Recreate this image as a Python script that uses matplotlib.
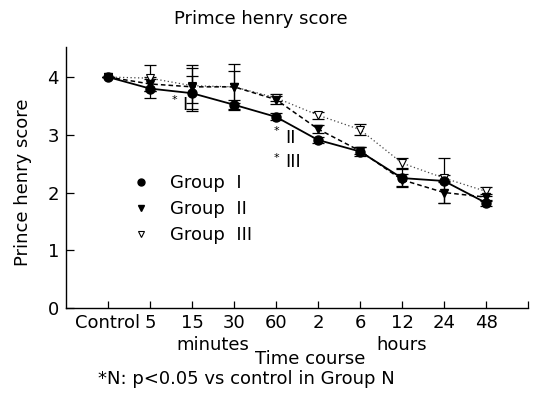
import numpy as np
import matplotlib
matplotlib.use("Agg")
import matplotlib.pyplot as plt
from matplotlib.lines import Line2D
from matplotlib.transforms import blended_transform_factory

plt.rcParams['font.family'] = ['DejaVu Sans']

# ---- data ----
time_labels = ['Control', '5', '15', '30', '60', '2', '6', '12', '24', '48']
group1 = [4.0, 3.80, 3.72, 3.52, 3.31, 2.91, 2.71, 2.25, 2.20, 1.82]
group1_err = [0, 0.16, 0.30, 0.08, 0.06, 0.05, 0.07, 0.15, 0.39, 0.05]
group2 = [4.0, 3.88, 3.83, 3.83, 3.61, 3.10, 2.72, 2.22, 2.00, 1.92]
group2_err = [0, 0.12, 0.38, 0.40, 0.07, 0.07, 0.06, 0.10, 0.18, 0.06]
group3 = [4.0, 3.98, 3.85, 3.83, 3.64, 3.34, 3.09, 2.51, 2.25, 2.02]
group3_err = [0, 0.22, 0.30, 0.28, 0.06, 0.06, 0.10, 0.08, 0.05, 0.08]
legend_labels = ['Group  I', 'Group  II', 'Group  III']

W, H = 535, 403
fig = plt.figure(figsize=(W / 100, H / 100), dpi=100)
ax = fig.add_axes([66 / W, 1 - 308 / H, (528 - 66) / W, (308 - 47) / H])

x = np.arange(len(time_labels))
fs = 13

# error bars
for vals, errs in [(group3, group3_err), (group2, group2_err), (group1, group1_err)]:
    ax.errorbar(x, vals, yerr=errs, fmt='none', ecolor='black', elinewidth=0.9,
                capsize=4, capthick=0.9, zorder=2)

ax.plot(x, group3, linestyle=(0, (1, 2)), color='#444444', lw=0.9,
        marker='v', markersize=6, markerfacecolor='white', markeredgecolor='black',
        markeredgewidth=0.8, zorder=3)
ax.plot(x, group2, linestyle=(0, (3, 2)), color='black', lw=1.1,
        marker='v', markersize=6, markerfacecolor='black', markeredgecolor='black', zorder=4)
ax.plot(x, group1, linestyle='-', color='black', lw=1.3,
        marker='o', markersize=6.5, markerfacecolor='black', markeredgecolor='black', zorder=5)

ax.set_xlim(-1, 10)
ax.set_ylim(0, 4.52)
ax.spines['top'].set_visible(False)
ax.spines['right'].set_visible(False)
for s in ['left', 'bottom']:
    ax.spines[s].set_linewidth(1.0)

ax.set_xticks(x)
ax.set_xticklabels(time_labels, fontsize=fs)
ax.set_xticks([10], minor=True)
ax.tick_params(axis='x', which='both', direction='in', length=5, width=0.9, pad=4)
ax.set_yticks([0, 1, 2, 3, 4])
ax.set_yticklabels(['0', '1', '2', '3', '4'], fontsize=fs)
ax.tick_params(axis='y', direction='in', length=6, width=0.9, pad=5)

# significance annotations
ax.text(1.58, 3.60, '*', fontsize=8, ha='center', va='center')
ax.text(1.82, 3.52, 'I', fontsize=fs, ha='center', va='center')
ax.text(4.0, 3.07, '*', fontsize=8, ha='center', va='center')
ax.text(4.34, 2.94, 'II', fontsize=fs, ha='center', va='center')
ax.text(4.0, 2.59, '*', fontsize=8, ha='center', va='center')
ax.text(4.40, 2.53, 'III', fontsize=fs, ha='center', va='center')

# legend
handles = [
    Line2D([], [], ls='none', marker='o', markersize=5, color='black'),
    Line2D([], [], ls='none', marker='v', markersize=5, color='black'),
    Line2D([], [], ls='none', marker='v', markersize=5, markerfacecolor='white',
           markeredgecolor='black', markeredgewidth=0.8),
]
ax.legend(handles, legend_labels, loc='upper left', bbox_to_anchor=(132 / W, 1 - 174 / H),
          bbox_transform=fig.transFigure, frameon=False, fontsize=fs, handlelength=1.0,
          handletextpad=1.1, labelspacing=0.45, borderpad=0, borderaxespad=0)

# group text below x axis
tr = blended_transform_factory(ax.transData, fig.transFigure)
ax.text(2.5, 1 - 345 / H, 'minutes', transform=tr, fontsize=fs, ha='center', va='center')
ax.text(7.0, 1 - 345 / H, 'hours', transform=tr, fontsize=fs, ha='center', va='center')

fig.text(310 / W, 1 - 359.5 / H, 'Time course', fontsize=fs, ha='center', va='center')
fig.text(246 / W, 1 - 379 / H, '*N: p<0.05 vs control in Group N', fontsize=fs,
         ha='center', va='center')
fig.text(261 / W, 1 - 19 / H, 'Primce henry score', fontsize=fs, ha='center', va='center')
fig.text(23 / W, 1 - 182 / H, 'Prince henry score', fontsize=fs, ha='center', va='center',
         rotation=90)

fig.savefig('out.png', dpi=100)
